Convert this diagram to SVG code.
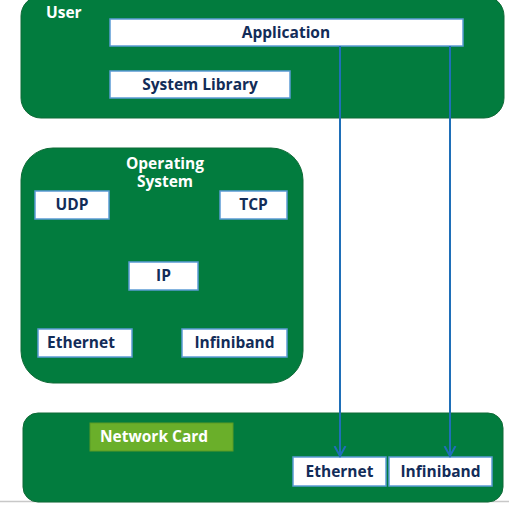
<svg xmlns="http://www.w3.org/2000/svg" width="509" height="505" viewBox="0 0 509 505">
<style>
.cont{fill:#027c3e;stroke:#0f6a36;stroke-width:1}
.box{fill:#ffffff;stroke:#5b9bd5;stroke-width:1.5}
.t{font-family:"Open Sans","Liberation Sans",sans-serif;font-weight:700;font-size:15.5px;fill:#122c58;text-anchor:middle}
.w{font-family:"Open Sans","Liberation Sans",sans-serif;font-weight:700;font-size:15.5px;fill:#ffffff}
.conn{stroke:#1f6fb8;stroke-width:2;fill:none}
</style>
<defs>
<marker id="ah" markerWidth="12" markerHeight="14" refX="10" refY="6" orient="auto" markerUnits="userSpaceOnUse" viewBox="0 0 12 12">
<path d="M0,0.5 L10,6 L0,11.5" fill="none" stroke="#1f6fb8" stroke-width="2"/>
</marker>
</defs>
<rect x="0" y="0" width="509" height="505" fill="#ffffff"/>
<line x1="0" y1="501.5" x2="509" y2="501.5" stroke="#c8c8c8" stroke-width="1.5"/>
<g id="user">
<rect class="cont" x="21" y="-4" width="483" height="122" rx="20"/>
<text class="w" x="46" y="18">User</text>
</g>
<g id="application">
<rect class="box" x="110" y="19" width="353" height="27"/>
<text class="t" x="286" y="38">Application</text>
</g>
<g id="system-library">
<rect class="box" x="110" y="71" width="180" height="27"/>
<text class="t" x="200" y="90">System Library</text>
</g>
<g id="os">
<rect class="cont" x="21" y="148" width="282" height="235" rx="32"/>
<text class="w" text-anchor="middle"><tspan x="165" y="169">Operating</tspan><tspan x="165" y="187">System</tspan></text>
</g>
<g id="udp">
<rect class="box" x="35" y="191" width="74" height="28"/>
<text class="t" x="72" y="210">UDP</text>
</g>
<g id="tcp">
<rect class="box" x="220" y="191" width="67" height="28"/>
<text class="t" x="253.5" y="210">TCP</text>
</g>
<g id="ip">
<rect class="box" x="129" y="262" width="69" height="28"/>
<text class="t" x="163.5" y="281">IP</text>
</g>
<g id="os-ethernet">
<rect class="box" x="38" y="329" width="94" height="28"/>
<text class="t" x="81" y="348">Ethernet</text>
</g>
<g id="os-infiniband">
<rect class="box" x="182" y="329" width="105" height="28"/>
<text class="t" x="234.5" y="348">Infiniband</text>
</g>
<g id="network">
<rect class="cont" x="23" y="413" width="480" height="89" rx="15"/>
</g>
<g id="network-card">
<rect x="90" y="423" width="143" height="28" fill="#6aaf2a" stroke="#5a9a24" stroke-width="1"/>
<text class="w" x="100" y="442">Network Card</text>
</g>
<g id="nc-ethernet">
<rect class="box" x="293" y="457" width="93" height="29"/>
<text class="t" x="339.5" y="477">Ethernet</text>
</g>
<g id="nc-infiniband">
<rect class="box" x="389" y="457" width="103" height="29"/>
<text class="t" x="440.5" y="477">Infiniband</text>
</g>
<g id="connectors">
<line class="conn" x1="340" y1="46" x2="340" y2="456" marker-end="url(#ah)"/>
<line class="conn" x1="450" y1="46" x2="450" y2="456" marker-end="url(#ah)"/>
</g>
</svg>
